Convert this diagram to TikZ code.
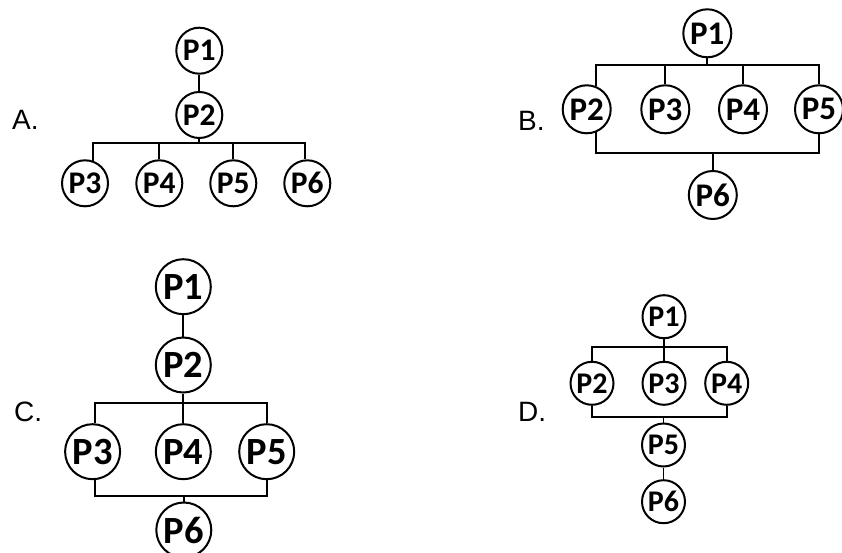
\documentclass[tikz,border=0pt]{standalone}
\usepackage{fontspec}
\setmainfont{Liberation Sans}
\newfontfamily\pfont{Carlito}
\begin{document}
\begin{tikzpicture}[x=1pt,y=-1pt,
  proc/.style={circle,draw,line width=2pt,inner sep=0pt,font=\pfont\bfseries},
  pa/.style={proc,minimum size=46pt,font=\pfont\bfseries\fontsize{31.5}{32}\selectfont},
  pb/.style={proc,minimum size=48pt,font=\pfont\bfseries\fontsize{33}{34}\selectfont},
  pc/.style={proc,minimum size=55pt,font=\pfont\bfseries\fontsize{38.5}{39}\selectfont},
  pd/.style={proc,minimum size=43pt,font=\pfont\bfseries\fontsize{30}{31}\selectfont},
  wire/.style={line width=1.9pt},
  lbl/.style={anchor=west,inner sep=0pt,font=\fontsize{28}{30}\selectfont}]
\useasboundingbox (0,0) rectangle (842,553);
% ---------- A ----------
\node[lbl] (la) at (12,120) {A.};
\node[pa] (a1) at (199.3,50.7) {P1};
\node[pa] (a2) at (199.3,115) {P2};
\node[pa] (a3) at (85,183.3) {P3};
\node[pa] (a4) at (159.3,183.3) {P4};
\node[pa] (a5) at (233.3,183.3) {P5};
\node[pa] (a6) at (307.3,183.3) {P6};
\coordinate (abar) at (199.3,142.7);
\draw[wire] (a1) -- (a2);
\draw[wire] (a3.70) |- (abar) -| (a6.95);
\draw[wire] (a2.south) -- (a2.south |- abar);
\draw[wire] (a4.north) -- (a4.north |- abar);
\draw[wire] (a5.north) -- (a5.north |- abar);
% ---------- B ----------
\node[lbl] (lb) at (518,120.7) {B.};
\node[pb] (b1) at (707.3,33.3) {P1};
\node[pb] (b2) at (586.7,109.3) {P2};
\node[pb] (b3) at (665.3,109.3) {P3};
\node[pb] (b4) at (743,109.3) {P4};
\node[pb] (b5) at (819,109.3) {P5};
\node[pb] (b6) at (712.8,195) {P6};
\coordinate (btop) at (707.3,65);
\coordinate (bbot) at (712.8,153.3);
\draw[wire] (b2.68) |- (btop) -| (b5.north);
\draw[wire] (b1.south) -- (b1.south |- btop);
\draw[wire] (b3.north) -- (b3.north |- btop);
\draw[wire] (b4.north) -- (b4.north |- btop);
\draw[wire] (b2.-68) |- (bbot) -| (b5.south);
\draw[wire] (b6.north) -- (b6.north |- bbot);
% ---------- C ----------
\node[lbl] (lc) at (14,411.7) {C.};
\node[pc] (c1) at (183.3,286.7) {P1};
\node[pc] (c2) at (183.3,365) {P2};
\node[pc] (c3) at (92.6,451.7) {P3};
\node[pc] (c4) at (183.3,451.7) {P4};
\node[pc] (c5) at (266.7,451.7) {P5};
\node[pc] (c6) at (183.8,530) {P6};
\coordinate (ctop) at (183.3,403.3);
\coordinate (cbot) at (183.8,496);
\draw[wire] (c1) -- (c2);
\draw[wire] (c2) -- (c4);
\draw[wire] (c3.86) |- (ctop) -| (c5.north);
\draw[wire] (c3.-86) |- (cbot) -| (c5.south);
\draw[wire] (c6.north) -- (c6.north |- cbot);
% ---------- D ----------
\node[lbl] (ld) at (518,411.7) {D.};
\node[pd] (d1) at (664,316.7) {P1};
\node[pd] (d2) at (592,383.3) {P2};
\node[pd] (d3) at (664,383.3) {P3};
\node[pd] (d4) at (726.7,383.3) {P4};
\node[pd] (d5) at (663.5,445) {P5};
\node[pd] (d6) at (663.5,501.7) {P6};
\coordinate (dtop) at (664,346.7);
\coordinate (dbot) at (663.5,417.3);
\draw[wire] (d2.north) |- (dtop) -| (d4.north);
\draw[wire] (d1) -- (d3);
\draw[wire] (d2.south) |- (dbot) -| (d4.south);
\draw[wire] (d5.north) -- (d5.north |- dbot);
\draw[wire] (d5) -- (d6);
\end{tikzpicture}
\end{document}
